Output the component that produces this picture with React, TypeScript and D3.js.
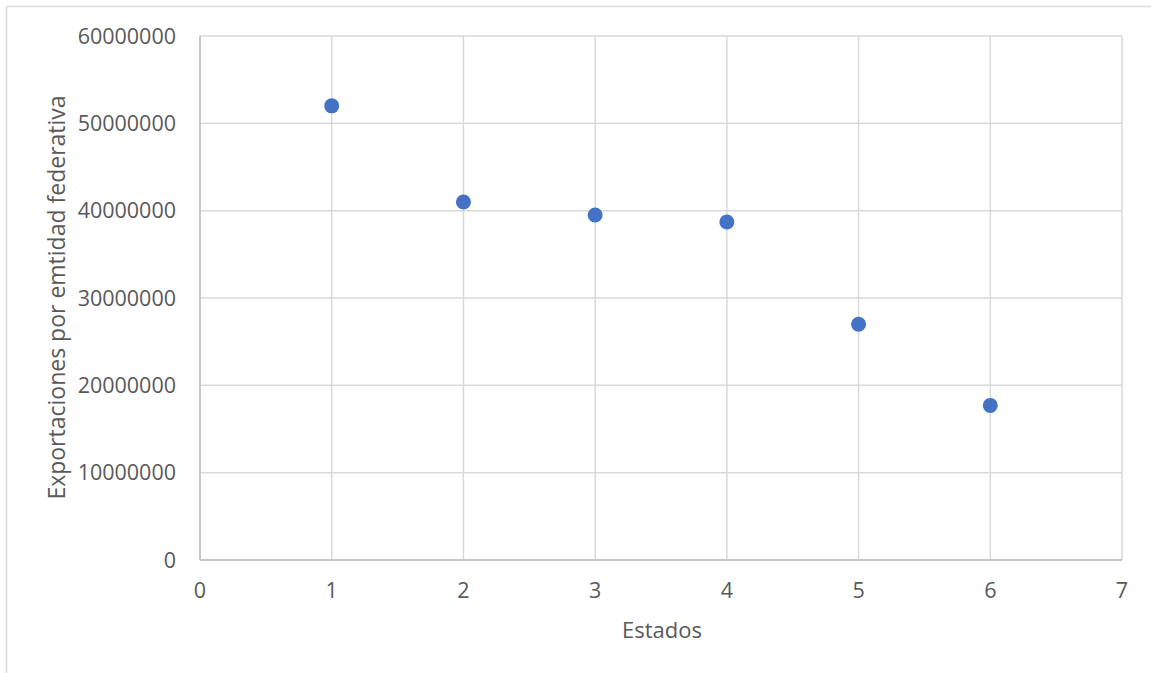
import React from "react";
import * as d3 from "d3";

const xValues = [1, 2, 3, 4, 5, 6];
const yValues = [52000000, 41000000, 39500000, 38700000, 27000000, 17700000];
const xTicks = [0, 1, 2, 3, 4, 5, 6, 7];
const yTicks = [0, 10000000, 20000000, 30000000, 40000000, 50000000, 60000000];
const xTitle = "Estados";
const yTitle = "Exportaciones por emtidad federativa";

const W = 1151;
const H = 673;
const left = 200, right = 1122, top = 36, bottom = 560;
const font = "'Open Sans', sans-serif";
const textColor = "#595959";
const gridColor = "#d9d9d9";

export default function App() {
  const x = d3.scaleLinear().domain([0, 7]).range([left, right]);
  const y = d3.scaleLinear().domain([0, 60000000]).range([bottom, top]);
  return (
    <svg width={W} height={H} style={{ position: "absolute", left: 0, top: 0, display: "block" }}>
      <rect x={0} y={0} width={W} height={H} fill="#fff" />
      <line x1={6.5} y1={6.5} x2={W} y2={6.5} stroke={gridColor} strokeWidth={1.5} />
      <line x1={6.5} y1={6.5} x2={6.5} y2={H} stroke={gridColor} strokeWidth={1.5} />
      {yTicks.map((t) => (
        <line key={"gy" + t} x1={left} x2={right} y1={y(t)} y2={y(t)} stroke={gridColor} strokeWidth={1.5} />
      ))}
      {xTicks.map((t) => (
        <line key={"gx" + t} x1={x(t)} x2={x(t)} y1={top} y2={bottom} stroke={gridColor} strokeWidth={1.5} />
      ))}
      <line x1={left} x2={left} y1={top} y2={bottom} stroke="#bfbfbf" strokeWidth={1.5} />
      <line x1={left} x2={right} y1={bottom} y2={bottom} stroke="#bfbfbf" strokeWidth={1.5} />
      {yTicks.map((t) => (
        <text key={"ly" + t} x={176} y={y(t)} dy="0.35em" textAnchor="end" fontFamily={font} fontSize={21.5} fill={textColor}>
          {t}
        </text>
      ))}
      {xTicks.map((t) => (
        <text key={"lx" + t} x={x(t)} y={590} dy="0.35em" textAnchor="middle" fontFamily={font} fontSize={21.5} fill={textColor}>
          {t}
        </text>
      ))}
      {xValues.map((v, i) => (
        <circle key={"p" + i} cx={x(v)} cy={y(yValues[i])} r={7.5} fill="#4472c4" />
      ))}
      <text x={662} y={630} dy="0.35em" textAnchor="middle" fontFamily={font} fontSize={22} fill={textColor}>
        {xTitle}
      </text>
      <text transform={`translate(57, 297.5) rotate(-90)`} dy="0.35em" textAnchor="middle" fontFamily={font} fontSize={23} fill={textColor}>
        {yTitle}
      </text>
    </svg>
  );
}
